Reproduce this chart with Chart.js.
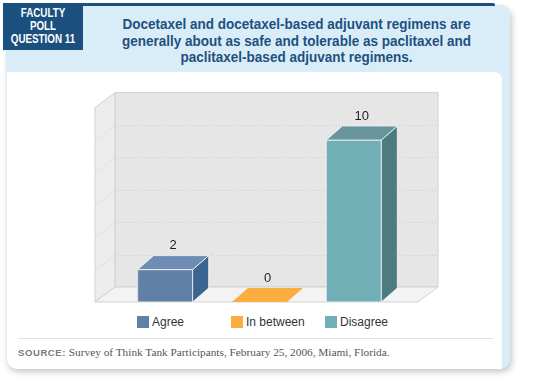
<!DOCTYPE html>
<html>
<head>
<meta charset="utf-8">
<script src="https://cdn.jsdelivr.net/npm/chart.js@4/dist/chart.umd.min.js"></script>
<style>
  html, body { margin:0; padding:0; background:#ffffff; width:540px; height:385px; overflow:hidden; }
  .abs { position:absolute; }
  #card { left:6px; top:5px; width:504px; height:364px; background:#d9edf8; border-radius:0 10px 10px 10px;
          box-shadow: 2px 3px 6px rgba(0,0,0,0.22); }
  #topline { left:83px; top:3px; width:412px; height:3px; background:#1b4f7e; border-radius:0 2px 0 0; }
  #qbox { left:3px; top:3px; width:80px; height:47px; background:#1b4f7e; }
  #qtext { left:3px; top:7px; width:80px; color:#fff; text-align:center;
          font:bold 12px "Liberation Sans",Arial,sans-serif; line-height:13px; transform:scaleX(0.82); transform-origin:40px 0; }
  #title { left:83px; top:16px; width:427px; text-align:center; color:#1e5080;
           font:bold 15px "Liberation Sans",Arial,sans-serif; line-height:16.5px; transform:scaleX(0.9); transform-origin:213.5px 0; }
  #panel { left:7px; top:72px; width:495px; height:297px; background:#fff; border-radius:0 8px 0 10px; }
  #sep { left:18px; top:338px; width:475px; height:1px; background:#e3e3e3; }
  #source { left:18px; top:346px; white-space:nowrap; color:#555; font:11.3px "Liberation Serif",serif; }
  #source b { font:bold 9.5px "Liberation Sans",sans-serif; color:#7a7a7a; letter-spacing:0.6px; font-weight:bold; }
  #legend .item { position:absolute; top:316px; height:12px; white-space:nowrap; font:12px "Liberation Sans",sans-serif; color:#333; }
  #legend .box { position:absolute; left:0; top:0; width:12px; height:12px; }
  #legend .txt { position:absolute; left:15px; top:-1px; line-height:14px; }
  #c { position:absolute; left:0; top:0; }
</style>
</head>
<body>
<div id="card" class="abs"></div>
<div id="panel" class="abs"></div>
<div id="topline" class="abs"></div>
<div id="qbox" class="abs"></div>
<div id="qtext" class="abs">FACULTY<br>POLL<br>QUESTION 11</div>
<div id="title" class="abs">Docetaxel and docetaxel-based adjuvant regimens are<br>generally about as safe and tolerable as paclitaxel and<br>paclitaxel-based adjuvant regimens.</div>
<div id="sep" class="abs"></div>
<div id="source" class="abs"><b>SOURCE:</b> Survey of Think Tank Participants, February 25, 2006, Miami, Florida.</div>
<div id="legend"></div>
<canvas id="c" width="540" height="385"></canvas>
<script>
// ---- data ----
const categories = ['Agree', 'In between', 'Disagree'];
const responses = [2, 0, 10];
const yTicks = [0, 2, 4, 6, 8, 10, 12];

// ---- styles ----
const frontColors = ['#6180a8', '#fbad40', '#72aeb5'];
const sideColors  = ['#3b6590', '#f59e2a', '#4c7c80'];
const topColors   = ['#6f8db4', '#fbad40', '#67959b'];
const BAR_DX = 16, BAR_DY = -14;
const WALL_DX = 20, WALL_DY = -15;
const WALL_PAD_L = 23, WALL_PAD_R = 17;

function poly(ctx, pts, fill, stroke) {
  ctx.beginPath();
  ctx.moveTo(pts[0][0], pts[0][1]);
  for (let i = 1; i < pts.length; i++) ctx.lineTo(pts[i][0], pts[i][1]);
  ctx.closePath();
  if (fill) { ctx.fillStyle = fill; ctx.fill(); }
  if (stroke) { ctx.strokeStyle = stroke; ctx.lineWidth = 1; ctx.stroke(); }
}

const box3d = {
  id: 'box3d',
  beforeDatasetsDraw(chart) {
    const ctx = chart.ctx, a = chart.chartArea, ys = chart.scales.y;
    const y0 = ys.getPixelForValue(yTicks[0]);
    const yT = ys.getPixelForValue(yTicks[yTicks.length - 1]);
    const xl = a.left - WALL_PAD_L, xr = a.right + WALL_PAD_R;
    ctx.save();
    poly(ctx, [[xl+WALL_DX, yT+WALL_DY], [xr+WALL_DX, yT+WALL_DY], [xr+WALL_DX, y0+WALL_DY], [xl+WALL_DX, y0+WALL_DY]], '#e6e6e6', '#d2d2d2');
    poly(ctx, [[xl, yT], [xl+WALL_DX, yT+WALL_DY], [xl+WALL_DX, y0+WALL_DY], [xl, y0]], '#ececec', '#d2d2d2');
    poly(ctx, [[xl, y0], [xl+WALL_DX, y0+WALL_DY], [xr+WALL_DX, y0+WALL_DY], [xr, y0]], '#f3f3f3', '#d2d2d2');
    ctx.setLineDash([1, 2]);
    ctx.strokeStyle = '#cdcdcd';
    ctx.lineWidth = 1;
    yTicks.slice(1, -1).forEach(v => {
      const y = Math.round(ys.getPixelForValue(v)) + 0.5;
      ctx.beginPath();
      ctx.moveTo(xl, y);
      ctx.lineTo(xl + WALL_DX, y + WALL_DY);
      ctx.lineTo(xr + WALL_DX, y + WALL_DY);
      ctx.stroke();
    });
    ctx.restore();
  },
  afterDatasetsDraw(chart) {
    const ctx = chart.ctx;
    const meta = chart.getDatasetMeta(0);
    ctx.save();
    meta.data.forEach((el, i) => {
      const w = el.width, l = el.x - w / 2, r = el.x + w / 2, t = el.y, b = el.base;
      const edge = 'rgba(255,255,255,0.75)';
      if (b - t > 0.5) {
        poly(ctx, [[l, t], [r, t], [r, b], [l, b]], null, edge);
        poly(ctx, [[r, t], [r+BAR_DX, t+BAR_DY], [r+BAR_DX, b+BAR_DY], [r, b]], sideColors[i], edge);
        poly(ctx, [[l, t], [r, t], [r+BAR_DX, t+BAR_DY], [l+BAR_DX, t+BAR_DY]], topColors[i], edge);
      } else {
        poly(ctx, [[l, t], [r, t], [r+BAR_DX, t+BAR_DY], [l+BAR_DX, t+BAR_DY]], topColors[i], null);
      }
      ctx.fillStyle = '#1e1e1e';
      ctx.font = '13px "Liberation Sans", Arial, sans-serif';
      ctx.textAlign = 'center';
      ctx.textBaseline = 'middle';
      ctx.fillText(String(responses[i]), el.x + BAR_DX / 2, t + BAR_DY - 10);
    });
    ctx.restore();
  }
};

const chart = new Chart(document.getElementById('c'), {
  type: 'bar',
  data: {
    labels: categories,
    datasets: [{
      label: 'Responses',
      data: responses,
      backgroundColor: frontColors,
      borderWidth: 0,
      barThickness: 55
    }]
  },
  options: {
    responsive: false,
    animation: false,
    events: [],
    layout: { padding: { left: 118, right: 139, top: 107.6, bottom: 83 } },
    scales: {
      x: { display: false, offset: true },
      y: { display: false, min: yTicks[0], max: yTicks[yTicks.length - 1], ticks: { stepSize: 2 } }
    },
    plugins: { legend: { display: false }, tooltip: { enabled: false } }
  },
  plugins: [box3d]
});

const legend = document.getElementById('legend');
chart.getDatasetMeta(0).data.forEach((el, i) => {
  const item = document.createElement('div');
  item.className = 'item';
  item.style.left = Math.round(el.x - el.width / 2 - 1) + 'px';
  const box = document.createElement('div');
  box.className = 'box';
  box.style.background = frontColors[i];
  const txt = document.createElement('div');
  txt.className = 'txt';
  txt.textContent = categories[i];
  item.appendChild(box); item.appendChild(txt);
  legend.appendChild(item);
});
</script>
</body>
</html>
